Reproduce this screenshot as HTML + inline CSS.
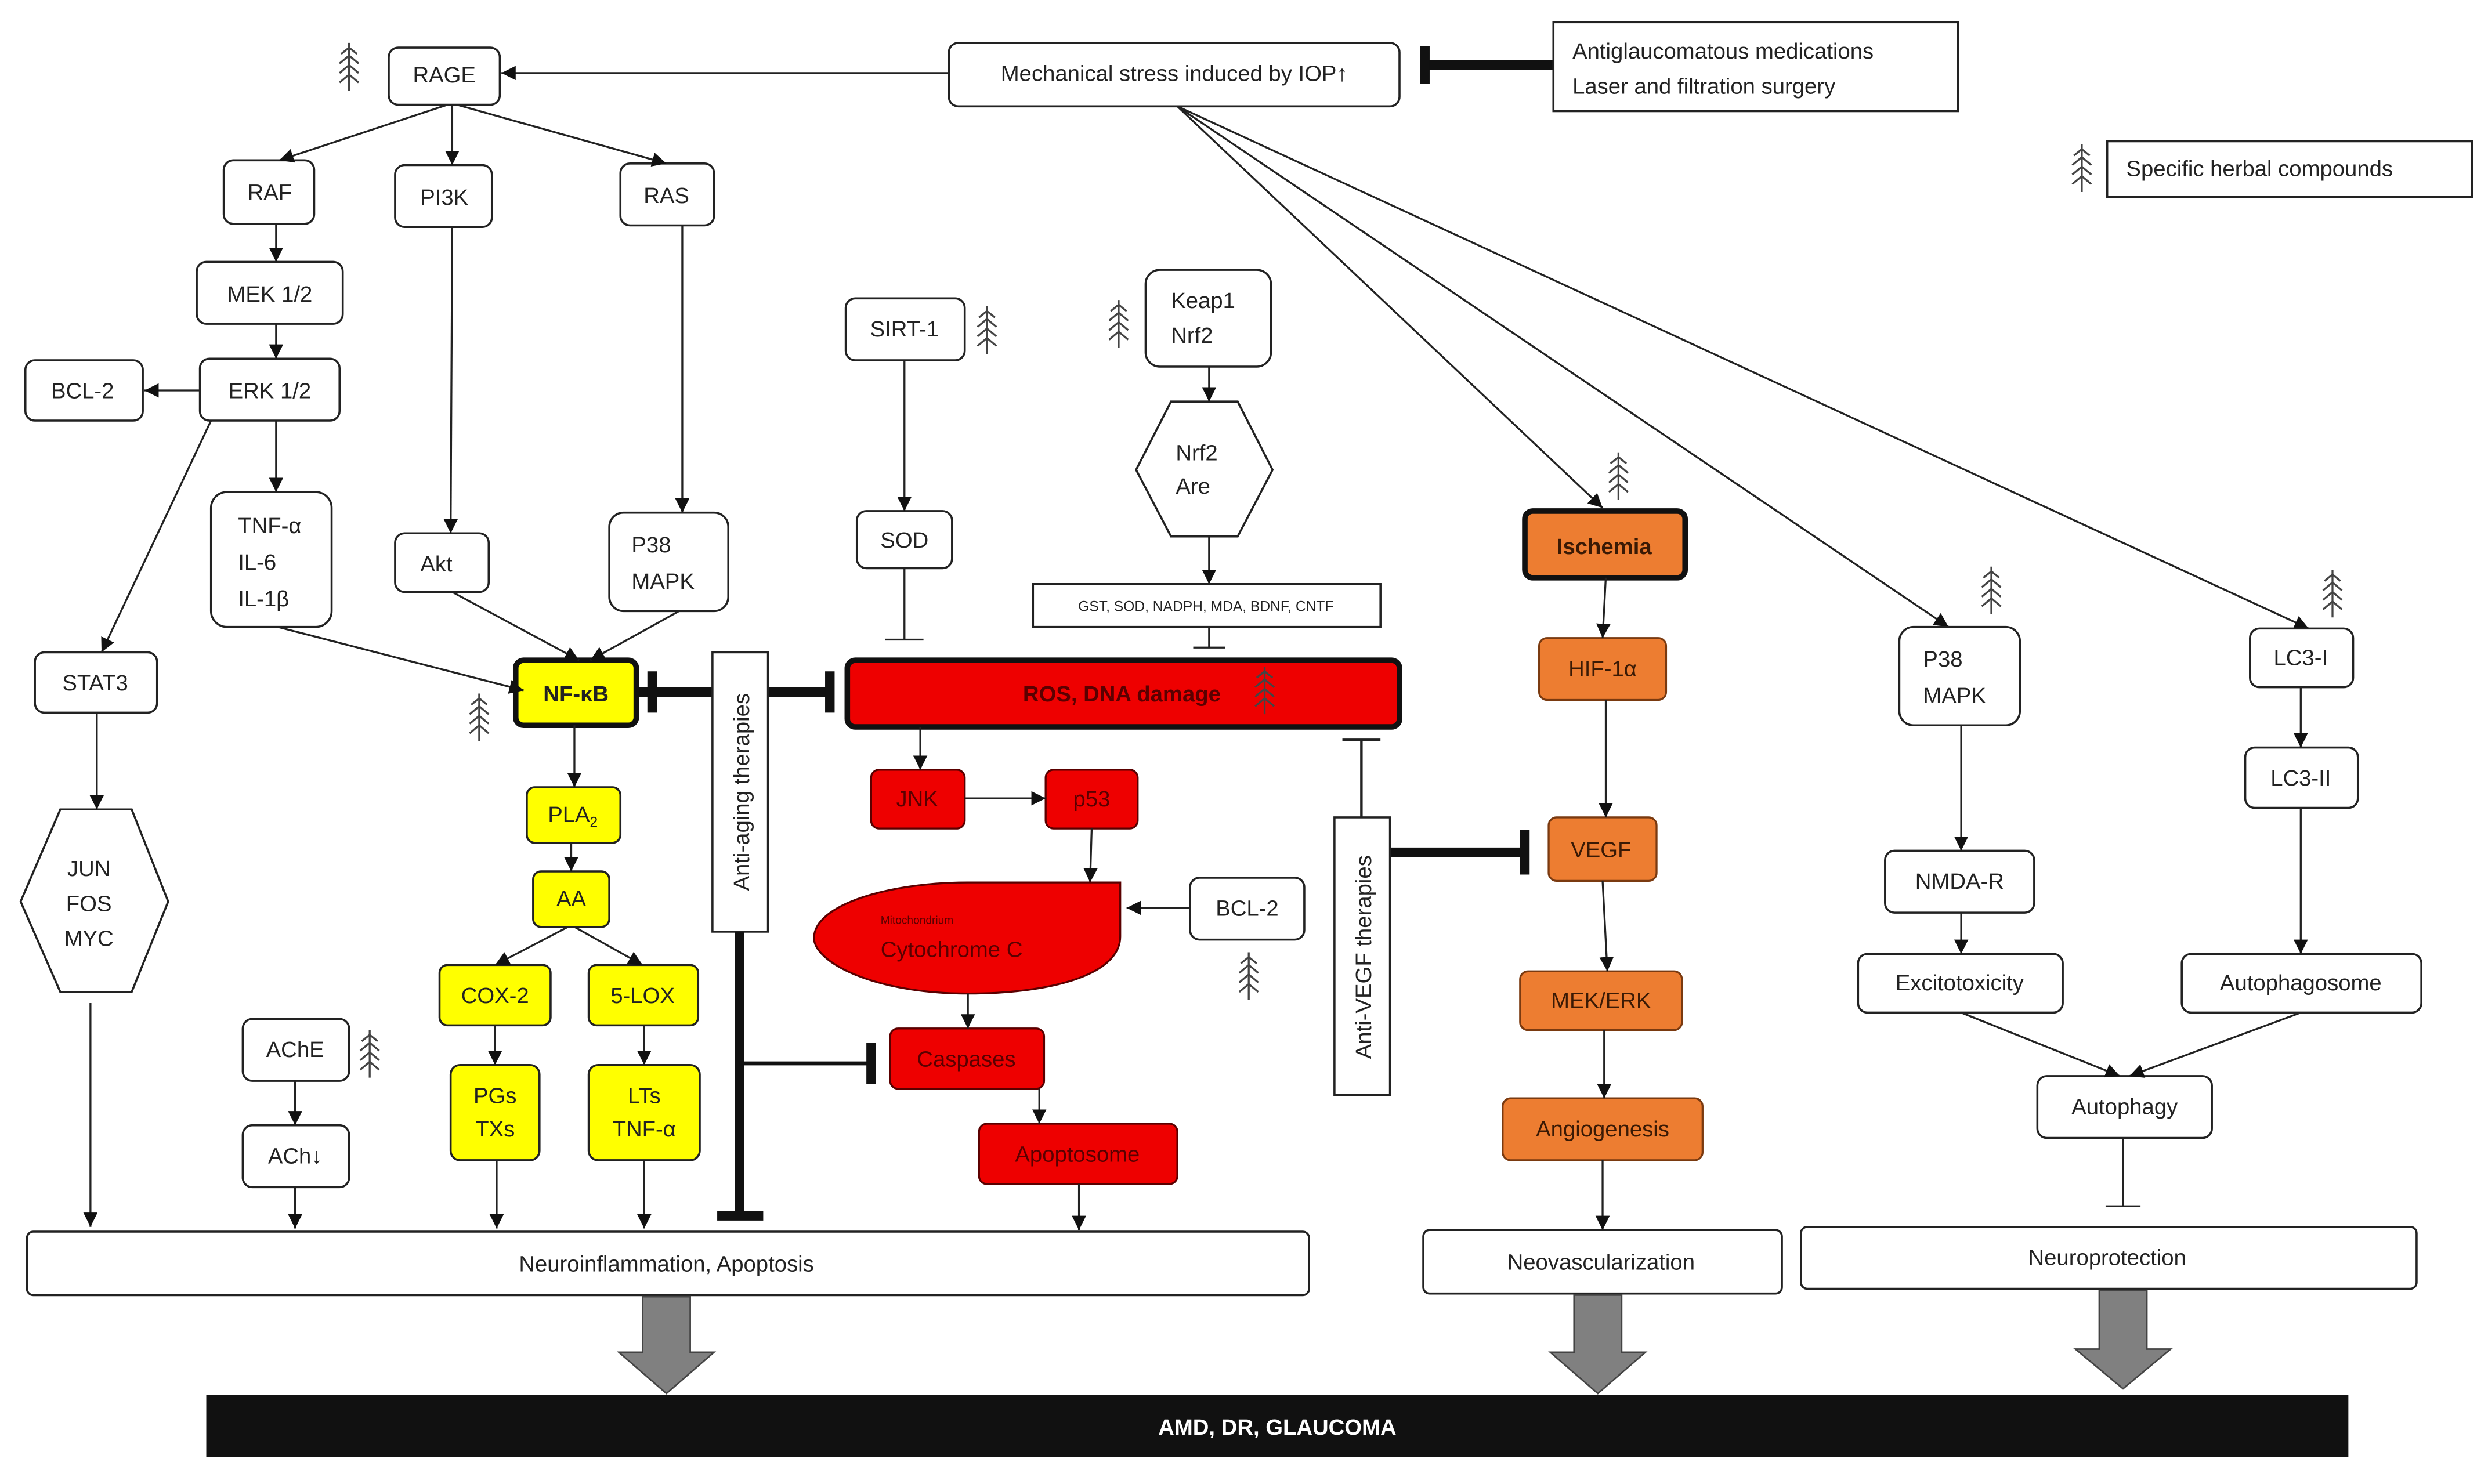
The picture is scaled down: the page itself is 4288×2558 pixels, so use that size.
<!DOCTYPE html>
<html><head><meta charset="utf-8"><style>
html,body{margin:0;padding:0;background:#fff}
svg{display:block}
text{font-family:"Liberation Sans","DejaVu Sans",sans-serif;font-size:14px;fill:#222}
.b{fill:#fff;stroke:#222;stroke-width:1.3}
.l{stroke:#222;stroke-width:1.2;fill:none}
.t{stroke:#111;stroke-width:6;fill:none}
.r{fill:#ee0000;stroke:#5a0000;stroke-width:1.2}
.o{fill:#ed7d31;stroke:#7a3a10;stroke-width:1.2}
.y{fill:#ffff00;stroke:#222;stroke-width:1.3}
.dr{fill:#5a0000}
</style></head><body>
<svg width="4288" height="2558" viewBox="0 0 1568 935" preserveAspectRatio="none" xmlns="http://www.w3.org/2000/svg">
<defs>
<marker id="a" viewBox="0 0 10 10" refX="10" refY="5" markerWidth="9" markerHeight="9" markerUnits="userSpaceOnUse" orient="auto"><path d="M0,0L10,5L0,10z" fill="#111"/></marker>
<g id="h" stroke="#444" stroke-width="1.2" fill="none"><path d="M0,-15V15"/><path d="M-5,-8L0,-12L5,-8M-6,-2L0,-7L6,-2M-6,4L0,-1L6,4M-6,10L0,5L6,10"/></g>
</defs>
<rect width="1568" height="935" fill="#fff"/>

<!-- top -->
<rect class="b" x="245" y="30" width="70" height="36" rx="6"/><text x="280" y="52" text-anchor="middle">RAGE</text>
<use href="#h" x="220" y="42"/>
<rect class="b" x="598" y="27" width="284" height="40" rx="6"/><text x="740" y="51" text-anchor="middle">Mechanical stress induced by IOP↑</text>
<line class="l" x1="598" y1="46" x2="316" y2="46" marker-end="url(#a)"/>
<line class="t" x1="980" y1="41" x2="900" y2="41"/><line class="t" x1="898" y1="29" x2="898" y2="53"/>
<rect class="b" x="979" y="14" width="255" height="56"/><text x="991" y="37">Antiglaucomatous medications</text><text x="991" y="59">Laser and filtration surgery</text>
<use href="#h" x="1312" y="106"/>
<rect class="b" x="1328" y="89" width="230" height="35"/><text x="1340" y="111">Specific herbal compounds</text>

<!-- left tree -->
<rect class="b" x="141" y="101" width="57" height="40" rx="6"/><text x="170" y="126" text-anchor="middle">RAF</text>
<rect class="b" x="249" y="104" width="61" height="39" rx="6"/><text x="280" y="129" text-anchor="middle">PI3K</text>
<rect class="b" x="391" y="103" width="59" height="39" rx="6"/><text x="420" y="128" text-anchor="middle">RAS</text>
<line class="l" x1="282" y1="66" x2="176" y2="101" marker-end="url(#a)"/>
<line class="l" x1="285" y1="66" x2="285" y2="104" marker-end="url(#a)"/>
<line class="l" x1="288" y1="66" x2="420" y2="103" marker-end="url(#a)"/>
<rect class="b" x="124" y="165" width="92" height="39" rx="6"/><text x="170" y="190" text-anchor="middle">MEK 1/2</text>
<line class="l" x1="174" y1="141" x2="174" y2="165" marker-end="url(#a)"/>
<rect class="b" x="126" y="226" width="88" height="39" rx="6"/><text x="170" y="251" text-anchor="middle">ERK 1/2</text>
<line class="l" x1="174" y1="204" x2="174" y2="226" marker-end="url(#a)"/>
<rect class="b" x="16" y="227" width="74" height="38" rx="6"/><text x="52" y="251" text-anchor="middle">BCL-2</text>
<line class="l" x1="126" y1="246" x2="91" y2="246" marker-end="url(#a)"/>
<rect class="b" x="133" y="310" width="76" height="85" rx="10"/><text x="150" y="336">TNF-α</text><text x="150" y="359">IL-6</text><text x="150" y="382">IL-1β</text>
<line class="l" x1="174" y1="265" x2="174" y2="310" marker-end="url(#a)"/>
<rect class="b" x="249" y="336" width="59" height="37" rx="6"/><text x="275" y="360" text-anchor="middle">Akt</text>
<line class="l" x1="285" y1="143" x2="284" y2="336" marker-end="url(#a)"/>
<rect class="b" x="384" y="323" width="75" height="62" rx="9"/><text x="398" y="348">P38</text><text x="398" y="371">MAPK</text>
<line class="l" x1="430" y1="142" x2="430" y2="323" marker-end="url(#a)"/>
<rect class="b" x="22" y="411" width="77" height="38" rx="6"/><text x="60" y="435" text-anchor="middle">STAT3</text>
<line class="l" x1="133" y1="265" x2="64" y2="411" marker-end="url(#a)"/>
<polygon class="b" points="13,568 38,510 83,510 106,568 83,625 38,625"/>
<text x="56" y="552" text-anchor="middle">JUN</text><text x="56" y="574" text-anchor="middle">FOS</text><text x="56" y="596" text-anchor="middle">MYC</text>
<line class="l" x1="61" y1="449" x2="61" y2="510" marker-end="url(#a)"/>
<line class="l" x1="57" y1="632" x2="57" y2="773" marker-end="url(#a)"/>

<!-- NF-kB -->
<rect x="325" y="416" width="76" height="41" rx="5" fill="#ffff00" stroke="#111" stroke-width="3.5"/>
<text x="363" y="442" text-anchor="middle" font-weight="bold" style="font-weight:bold">NF-κB</text>
<use href="#h" x="302" y="452"/>
<line class="l" x1="175" y1="395" x2="330" y2="435" marker-end="url(#a)"/>
<line class="l" x1="285" y1="373" x2="365" y2="416" marker-end="url(#a)"/>
<line class="l" x1="428" y1="385" x2="372" y2="416" marker-end="url(#a)"/>
<rect class="y" x="332" y="496" width="59" height="35" rx="5"/><text x="361" y="518" text-anchor="middle">PLA<tspan font-size="9" dy="3">2</tspan></text>
<line class="l" x1="362" y1="457" x2="362" y2="496" marker-end="url(#a)"/>
<rect class="y" x="336" y="549" width="48" height="35" rx="5"/><text x="360" y="571" text-anchor="middle">AA</text>
<line class="l" x1="360" y1="531" x2="360" y2="549" marker-end="url(#a)"/>
<rect class="y" x="277" y="608" width="70" height="38" rx="5"/><text x="312" y="632" text-anchor="middle">COX-2</text>
<rect class="y" x="371" y="608" width="69" height="38" rx="5"/><text x="405" y="632" text-anchor="middle">5-LOX</text>
<line class="l" x1="358" y1="584" x2="312" y2="608" marker-end="url(#a)"/>
<line class="l" x1="362" y1="584" x2="405" y2="608" marker-end="url(#a)"/>
<rect class="y" x="284" y="671" width="56" height="60" rx="6"/><text x="312" y="695" text-anchor="middle">PGs</text><text x="312" y="716" text-anchor="middle">TXs</text>
<rect class="y" x="371" y="671" width="70" height="60" rx="6"/><text x="406" y="695" text-anchor="middle">LTs</text><text x="406" y="716" text-anchor="middle">TNF-α</text>
<line class="l" x1="312" y1="646" x2="312" y2="671" marker-end="url(#a)"/>
<line class="l" x1="406" y1="646" x2="406" y2="671" marker-end="url(#a)"/>
<line class="l" x1="313" y1="731" x2="313" y2="774" marker-end="url(#a)"/>
<line class="l" x1="406" y1="731" x2="406" y2="774" marker-end="url(#a)"/>
<rect class="b" x="153" y="642" width="67" height="39" rx="6"/><text x="186" y="666" text-anchor="middle">AChE</text>
<use href="#h" x="233" y="664"/>
<rect class="b" x="153" y="709" width="67" height="39" rx="6"/><text x="186" y="733" text-anchor="middle">ACh↓</text>
<line class="l" x1="186" y1="681" x2="186" y2="709" marker-end="url(#a)"/>
<line class="l" x1="186" y1="748" x2="186" y2="774" marker-end="url(#a)"/>

<!-- anti-aging -->
<line class="t" x1="401" y1="436" x2="449" y2="436"/><line class="t" x1="411" y1="423" x2="411" y2="449"/>
<line class="t" x1="484" y1="436" x2="524" y2="436"/><line class="t" x1="523" y1="423" x2="523" y2="449"/>
<rect class="b" x="449" y="411" width="35" height="176"/>
<text transform="translate(472,499) rotate(-90)" text-anchor="middle">Anti-aging therapies</text>
<line class="t" x1="466" y1="587" x2="466" y2="768"/><line class="t" x1="452" y1="766" x2="481" y2="766"/>
<line x1="466" y1="670" x2="548" y2="670" stroke="#111" stroke-width="2.5"/><line class="t" x1="549" y1="657" x2="549" y2="683"/>

<!-- SIRT / Keap -->
<rect class="b" x="533" y="188" width="75" height="39" rx="6"/><text x="570" y="212" text-anchor="middle">SIRT-1</text>
<use href="#h" x="622" y="208"/>
<rect class="b" x="540" y="322" width="60" height="36" rx="6"/><text x="570" y="345" text-anchor="middle">SOD</text>
<line class="l" x1="570" y1="227" x2="570" y2="322" marker-end="url(#a)"/>
<line class="l" x1="570" y1="358" x2="570" y2="403"/><line class="l" x1="558" y1="403" x2="582" y2="403"/>
<rect class="b" x="722" y="170" width="79" height="61" rx="9"/><text x="738" y="194">Keap1</text><text x="738" y="216">Nrf2</text>
<use href="#h" x="705" y="204"/>
<polygon class="b" points="716,296 738,253 780,253 802,296 780,338 738,338"/>
<text x="741" y="290">Nrf2</text><text x="741" y="311">Are</text>
<line class="l" x1="762" y1="231" x2="762" y2="253" marker-end="url(#a)"/>
<line class="l" x1="762" y1="338" x2="762" y2="368" marker-end="url(#a)"/>
<rect class="b" x="651" y="368" width="219" height="27"/><text x="760" y="385" text-anchor="middle" style="font-size:9px">GST, SOD, NADPH, MDA, BDNF, CNTF</text>
<line class="l" x1="762" y1="395" x2="762" y2="408"/><line class="l" x1="752" y1="408" x2="772" y2="408"/>

<!-- ROS -->
<rect x="534" y="416" width="348" height="42" rx="5" fill="#ee0000" stroke="#111" stroke-width="3.5"/>
<text x="707" y="442" text-anchor="middle" class="dr" style="font-weight:bold;fill:#5a0000">ROS, DNA damage</text>
<use href="#h" x="797" y="435"/>
<rect class="r" x="549" y="485" width="59" height="37" rx="5"/><text x="578" y="508" text-anchor="middle" style="fill:#5a0000">JNK</text>
<rect class="r" x="659" y="485" width="58" height="37" rx="5"/><text x="688" y="508" text-anchor="middle" style="fill:#5a0000">p53</text>
<line class="l" x1="580" y1="458" x2="580" y2="485" marker-end="url(#a)"/>
<line class="l" x1="608" y1="503" x2="659" y2="503" marker-end="url(#a)"/>
<line class="l" x1="688" y1="522" x2="687" y2="556" marker-end="url(#a)"/>
<path class="r" d="M706,556 L706,590 C706,615 660,626 610,626 C550,626 513,606 513,591 C513,570 560,556 610,556 Z"/>
<text x="555" y="582" style="font-size:7px;fill:#5a0000">Mitochondrium</text>
<text x="555" y="603" style="fill:#5a0000">Cytochrome C</text>
<rect class="b" x="750" y="553" width="72" height="39" rx="6"/><text x="786" y="577" text-anchor="middle">BCL-2</text>
<line class="l" x1="750" y1="572" x2="710" y2="572" marker-end="url(#a)"/>
<use href="#h" x="787" y="615"/>
<rect class="r" x="561" y="648" width="97" height="38" rx="5"/><text x="609" y="672" text-anchor="middle" style="fill:#5a0000">Caspases</text>
<line class="l" x1="610" y1="626" x2="610" y2="648" marker-end="url(#a)"/>
<rect class="r" x="617" y="708" width="125" height="38" rx="5"/><text x="679" y="732" text-anchor="middle" style="fill:#5a0000">Apoptosome</text>
<line class="l" x1="655" y1="686" x2="655" y2="708" marker-end="url(#a)"/>
<line class="l" x1="680" y1="746" x2="680" y2="775" marker-end="url(#a)"/>

<rect class="b" x="17" y="776" width="808" height="40" rx="4"/><text x="420" y="801" text-anchor="middle">Neuroinflammation, Apoptosis</text>

<!-- fan -->
<line class="l" x1="742" y1="67" x2="1010" y2="320" marker-end="url(#a)"/>
<line class="l" x1="742" y1="67" x2="1228" y2="395" marker-end="url(#a)"/>
<line class="l" x1="742" y1="67" x2="1455" y2="396" marker-end="url(#a)"/>

<!-- ischemia column -->
<rect x="961" y="322" width="101" height="42" rx="5" fill="#ed7d31" stroke="#111" stroke-width="3.5"/>
<text x="1011" y="349" text-anchor="middle" style="font-weight:bold;fill:#3a1a05">Ischemia</text>
<use href="#h" x="1020" y="300"/>
<rect class="o" x="970" y="402" width="80" height="39" rx="5"/><text x="1010" y="426" text-anchor="middle" style="fill:#3a1a05">HIF-1α</text>
<line class="l" x1="1012" y1="364" x2="1010" y2="402" marker-end="url(#a)"/>
<rect class="o" x="976" y="515" width="68" height="40" rx="5"/><text x="1009" y="540" text-anchor="middle" style="fill:#3a1a05">VEGF</text>
<line class="l" x1="1012" y1="441" x2="1012" y2="515" marker-end="url(#a)"/>
<rect class="o" x="958" y="612" width="102" height="37" rx="5"/><text x="1009" y="635" text-anchor="middle" style="fill:#3a1a05">MEK/ERK</text>
<line class="l" x1="1010" y1="555" x2="1013" y2="612" marker-end="url(#a)"/>
<rect class="o" x="947" y="692" width="126" height="39" rx="5"/><text x="1010" y="716" text-anchor="middle" style="fill:#3a1a05">Angiogenesis</text>
<line class="l" x1="1011" y1="649" x2="1011" y2="692" marker-end="url(#a)"/>
<line class="l" x1="1010" y1="731" x2="1010" y2="775" marker-end="url(#a)"/>
<rect class="b" x="897" y="775" width="226" height="40" rx="4"/><text x="1009" y="800" text-anchor="middle">Neovascularization</text>
<line class="t" x1="876" y1="537" x2="960" y2="537"/><line class="t" x1="961" y1="523" x2="961" y2="551"/>
<line class="l" x1="858" y1="515" x2="858" y2="466" style="stroke-width:1.6"/><line class="l" x1="846" y1="466" x2="870" y2="466" style="stroke-width:2"/>
<rect class="b" x="841" y="515" width="35" height="175"/>
<text transform="translate(864,603) rotate(-90)" text-anchor="middle">Anti-VEGF  therapies</text>

<!-- right -->
<rect class="b" x="1197" y="395" width="76" height="62" rx="9"/><text x="1212" y="420">P38</text><text x="1212" y="443">MAPK</text>
<use href="#h" x="1255" y="372"/>
<rect class="b" x="1188" y="536" width="94" height="39" rx="6"/><text x="1235" y="560" text-anchor="middle">NMDA-R</text>
<line class="l" x1="1236" y1="457" x2="1236" y2="536" marker-end="url(#a)"/>
<rect class="b" x="1171" y="601" width="129" height="37" rx="6"/><text x="1235" y="624" text-anchor="middle">Excitotoxicity</text>
<line class="l" x1="1236" y1="575" x2="1236" y2="601" marker-end="url(#a)"/>
<rect class="b" x="1418" y="396" width="65" height="37" rx="6"/><text x="1450" y="419" text-anchor="middle">LC3-I</text>
<use href="#h" x="1470" y="374"/>
<rect class="b" x="1415" y="471" width="71" height="38" rx="6"/><text x="1450" y="495" text-anchor="middle">LC3-II</text>
<line class="l" x1="1450" y1="433" x2="1450" y2="471" marker-end="url(#a)"/>
<rect class="b" x="1375" y="601" width="151" height="37" rx="6"/><text x="1450" y="624" text-anchor="middle">Autophagosome</text>
<line class="l" x1="1450" y1="509" x2="1450" y2="601" marker-end="url(#a)"/>
<rect class="b" x="1284" y="678" width="110" height="39" rx="6"/><text x="1339" y="702" text-anchor="middle">Autophagy</text>
<line class="l" x1="1236" y1="638" x2="1336" y2="678" marker-end="url(#a)"/>
<line class="l" x1="1450" y1="638" x2="1342" y2="678" marker-end="url(#a)"/>
<line class="l" x1="1338" y1="717" x2="1338" y2="760"/><line class="l" x1="1327" y1="760" x2="1349" y2="760"/>
<rect class="b" x="1135" y="773" width="388" height="39" rx="4"/><text x="1328" y="797" text-anchor="middle">Neuroprotection</text>

<!-- big arrows -->
<g fill="#808080" stroke="#444" stroke-width="1">
<path d="M405,817H435V852H450L420,878L390,852H405Z"/>
<path d="M992,816H1022V852H1037L1007,878L977,852H992Z"/>
<path d="M1323,813H1353V850H1368L1338,875L1308,850H1323Z"/>
</g>
<rect x="130" y="879" width="1350" height="39" fill="#111"/>
<text x="805" y="904" text-anchor="middle" style="fill:#fff;font-weight:bold">AMD, DR, GLAUCOMA</text>
</svg>
</body></html>
